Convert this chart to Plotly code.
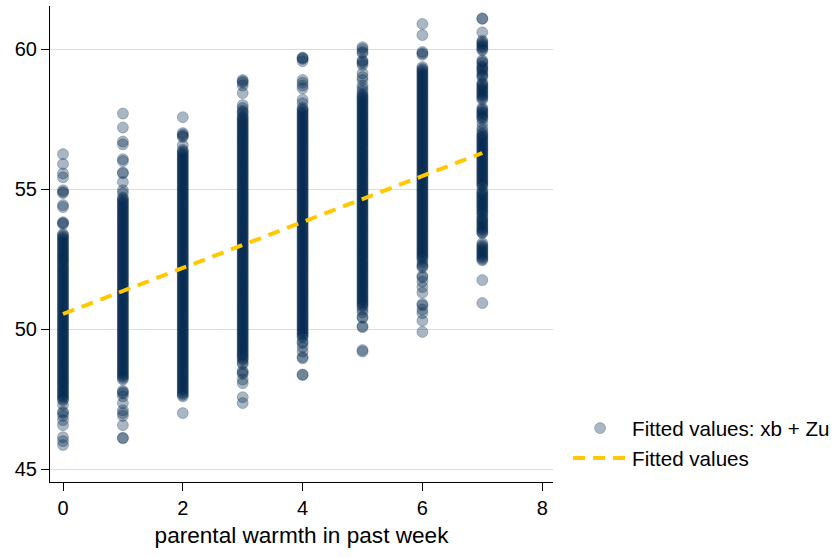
import plotly.graph_objects as go

# ---- data ----
warmth_levels = [0, 1, 2, 3, 4, 5, 6, 7]

y_w0 = [56.25, 55.9, 55.56, 55.42, 54.96, 54.9, 54.86, 54.43, 54.36, 53.82, 53.79, 53.75,
        53.4, 53.35, 53.3, 53.25, 53.2, 53.15, 53.1, 53.05, 53.0, 52.95, 52.9, 52.85,
        52.8, 52.75, 52.7, 52.65, 52.6, 52.55, 52.5, 52.46, 52.42, 52.36, 52.3, 52.25,
        52.2, 52.15, 52.1, 52.05, 52.0, 51.95, 51.9, 51.85, 51.8, 51.75, 51.7, 51.65,
        51.6, 51.55, 51.5, 51.45, 51.4, 51.35, 51.3, 51.25, 51.2, 51.15, 51.1, 51.05,
        51.0, 50.95, 50.9, 50.85, 50.8, 50.75, 50.7,
        50.65, 50.6, 50.55, 50.5, 50.45, 50.4, 50.35, 50.3, 50.25, 50.2, 50.15, 50.1,
        50.05, 50.0, 49.95, 49.9, 49.85, 49.8, 49.75, 49.7, 49.65, 49.6, 49.55, 49.5,
        49.45, 49.4, 49.35, 49.3, 49.25, 49.2, 49.15, 49.1, 49.05, 49.0, 48.95, 48.9,
        48.85, 48.8, 48.75, 48.7, 48.65, 48.6, 48.55, 48.5, 48.45, 48.4,
        48.35, 48.3, 48.25, 48.2, 48.15, 48.1, 48.07, 48.0, 47.95, 47.9, 47.85, 47.8,
        47.75, 47.7, 47.65, 47.6, 47.55, 47.5, 47.46, 47.3, 47.05, 47.0, 46.9, 46.75,
        46.57, 46.14, 46.0, 45.86]

y_w1 = [57.7, 57.2, 56.7, 56.6, 56.07, 56.0, 55.6, 55.56, 55.25, 54.96, 54.86,
        54.7, 54.65, 54.6, 54.55, 54.5, 54.45, 54.4, 54.35, 54.3, 54.25, 54.2, 54.15,
        54.1, 54.05, 54.0, 53.95, 53.9, 53.85, 53.8, 53.75, 53.7, 53.65, 53.6, 53.55,
        53.5, 53.45, 53.4, 53.35, 53.3, 53.25, 53.2, 53.15, 53.1, 53.05, 53.0, 52.95,
        52.9, 52.85, 52.8, 52.75, 52.7, 52.65, 52.6, 52.55, 52.5, 52.45, 52.4, 52.35,
        52.3, 52.25, 52.2, 52.15, 52.1, 52.05, 52.0, 51.95, 51.9, 51.85, 51.8, 51.75,
        51.7, 51.65, 51.6, 51.55, 51.5, 51.45, 51.4, 51.35, 51.3, 51.25, 51.2, 51.15,
        51.1, 51.05, 51.0, 50.95, 50.9, 50.85, 50.8, 50.75, 50.7, 50.65, 50.6, 50.55,
        50.5, 50.45, 50.4, 50.35, 50.3, 50.25, 50.2, 50.15, 50.1, 50.05, 50.0, 49.95,
        49.9, 49.85, 49.8, 49.75, 49.7, 49.65, 49.6, 49.55, 49.5, 49.45, 49.4, 49.35,
        49.3, 49.25, 49.2, 49.15, 49.1, 49.05, 49.0, 48.95, 48.9, 48.85, 48.8, 48.75,
        48.7, 48.65, 48.6, 48.55, 48.5, 48.45, 48.4, 48.35, 48.3, 48.25, 48.2,
        47.8, 47.75, 47.7, 47.6, 47.36, 47.1, 47.0, 46.9, 46.57, 46.1, 46.12]

y_w2 = [57.57, 57.0, 56.95, 56.9, 56.86, 56.57,
        56.4, 56.35, 56.3, 56.25, 56.2, 56.15, 56.1, 56.05, 56.0, 55.95, 55.9, 55.85,
        55.8, 55.75, 55.7, 55.65, 55.6, 55.55, 55.5, 55.45, 55.4, 55.35, 55.3, 55.25,
        55.2, 55.15, 55.1, 55.05, 55.0, 54.95, 54.9, 54.85, 54.8, 54.75, 54.7, 54.65,
        54.6, 54.55, 54.5, 54.45, 54.4, 54.35, 54.3, 54.25, 54.2, 54.15, 54.1, 54.05,
        54.0, 53.95, 53.9, 53.85, 53.8, 53.75, 53.7, 53.65, 53.6, 53.55, 53.5, 53.45,
        53.4, 53.35, 53.3, 53.25, 53.2, 53.15, 53.1, 53.05, 53.0, 52.95, 52.9, 52.85,
        52.8, 52.75, 52.7, 52.65, 52.6, 52.55, 52.5, 52.45, 52.4, 52.35, 52.3, 52.25,
        52.2, 52.15, 52.1, 52.05, 52.0, 51.95, 51.9, 51.85, 51.8, 51.75, 51.7, 51.65,
        51.6, 51.55, 51.5, 51.45, 51.4, 51.35, 51.3, 51.25, 51.2, 51.15, 51.1, 51.05,
        51.0, 50.95, 50.9, 50.85, 50.8, 50.75, 50.7, 50.65, 50.6, 50.55, 50.5, 50.45,
        50.4, 50.35, 50.3, 50.25, 50.2, 50.15, 50.1, 50.05, 50.0, 49.95, 49.9, 49.85,
        49.8, 49.75, 49.7, 49.65, 49.6, 49.55, 49.5, 49.45, 49.4, 49.35, 49.3, 49.25,
        49.2, 49.15, 49.1, 49.05, 49.0, 48.95, 48.9, 48.85, 48.8, 48.75, 48.7, 48.65,
        48.6, 48.55, 48.5, 48.45, 48.4, 48.35, 48.3, 48.25, 48.2, 48.15, 48.1, 48.05,
        48.0, 47.95, 47.9, 47.85, 47.8, 47.75, 47.7, 47.65, 47.6, 47.0]

y_w3 = [58.9, 58.85, 58.8, 58.7, 58.43, 58.0, 57.9, 57.8, 57.75, 57.7,
        57.6, 57.55, 57.5, 57.45, 57.4, 57.35, 57.3, 57.25, 57.2, 57.15, 57.1, 57.05,
        57.0, 56.95, 56.9, 56.85, 56.8, 56.75, 56.7, 56.65, 56.6, 56.55, 56.5, 56.45,
        56.4, 56.35, 56.3, 56.25, 56.2, 56.15, 56.1, 56.05, 56.0, 55.95, 55.9, 55.85,
        55.8, 55.75, 55.7, 55.65, 55.6, 55.55, 55.5, 55.45, 55.4, 55.35, 55.3, 55.25,
        55.2, 55.15, 55.1, 55.05, 55.0, 54.95, 54.9, 54.85, 54.8, 54.75, 54.7, 54.65,
        54.6, 54.55, 54.5, 54.45, 54.4, 54.35, 54.3, 54.25, 54.2, 54.15, 54.1, 54.05,
        54.0, 53.95, 53.9, 53.85, 53.8, 53.75, 53.7, 53.65, 53.6, 53.55, 53.5, 53.45,
        53.4, 53.35, 53.3, 53.25, 53.2, 53.15, 53.1, 53.05, 53.0, 52.95, 52.9, 52.85,
        52.8, 52.75, 52.7, 52.65, 52.6, 52.55, 52.5, 52.45, 52.4, 52.35, 52.3, 52.25,
        52.2, 52.15, 52.1, 52.05, 52.0, 51.95, 51.9, 51.85, 51.8, 51.75, 51.7, 51.65,
        51.6, 51.55, 51.5, 51.45, 51.4, 51.35, 51.3, 51.25, 51.2, 51.15, 51.1, 51.05,
        51.0, 50.95, 50.9, 50.85, 50.8, 50.75, 50.7, 50.65, 50.6, 50.55, 50.5, 50.45,
        50.4, 50.35, 50.3, 50.25, 50.2, 50.15, 50.1, 50.05, 50.0, 49.95, 49.9, 49.85,
        49.8, 49.75, 49.7, 49.65, 49.6, 49.55, 49.5, 49.45, 49.4, 49.35, 49.3, 49.25,
        49.2, 49.15, 49.1, 49.05, 49.0, 48.95, 48.9,
        48.8, 48.75, 48.5, 48.45, 48.4, 48.2, 48.07, 47.57, 47.36]

y_w4 = [59.7, 59.68, 59.65, 59.57, 58.9, 58.8, 58.7, 58.6, 58.2, 58.07,
        57.9, 57.85, 57.8, 57.75, 57.7, 57.65, 57.6, 57.55, 57.5, 57.45, 57.4, 57.35,
        57.3, 57.25, 57.2, 57.15, 57.1, 57.05, 57.0, 56.95, 56.9, 56.85, 56.8, 56.75,
        56.7, 56.65, 56.6, 56.55, 56.5, 56.45, 56.4, 56.35, 56.3, 56.25, 56.2, 56.15,
        56.1, 56.05, 56.0, 55.95, 55.9, 55.85, 55.8, 55.75, 55.7, 55.65, 55.6, 55.55,
        55.5, 55.45, 55.4, 55.35, 55.3, 55.25, 55.2, 55.15, 55.1, 55.05, 55.0, 54.95,
        54.9, 54.85, 54.8, 54.75, 54.7, 54.65, 54.6, 54.55, 54.5, 54.45, 54.4, 54.35,
        54.3, 54.25, 54.2, 54.15, 54.1, 54.05, 54.0, 53.95, 53.9, 53.85, 53.8, 53.75,
        53.7, 53.65, 53.6, 53.55, 53.5, 53.45, 53.4, 53.35, 53.3, 53.25, 53.2, 53.15,
        53.1, 53.05, 53.0, 52.95, 52.9, 52.85, 52.8, 52.75, 52.7, 52.65, 52.6, 52.55,
        52.5, 52.45, 52.4, 52.35, 52.3, 52.25, 52.2, 52.15, 52.1, 52.05, 52.0, 51.95,
        51.9, 51.85, 51.8, 51.75, 51.7, 51.65, 51.6, 51.55, 51.5, 51.45, 51.4, 51.35,
        51.3, 51.25, 51.2, 51.15, 51.1, 51.05, 51.0, 50.95, 50.9, 50.85, 50.8, 50.75,
        50.7, 50.65, 50.6, 50.55, 50.5, 50.45, 50.4, 50.35, 50.3, 50.25, 50.2, 50.15,
        50.1, 50.05, 50.0, 49.95, 49.9, 49.85, 49.8, 49.75, 49.7,
        49.55, 49.5, 49.36, 49.2, 49.0, 48.96, 48.38, 48.36]

y_w5 = [60.07, 60.0, 59.9, 59.86, 59.6, 59.55, 59.5, 59.43, 59.14, 59.0, 58.9, 58.7,
        58.6, 58.5,
        58.4, 58.35, 58.3, 58.25, 58.2, 58.15, 58.1, 58.05, 58.0, 57.95, 57.9, 57.85,
        57.8, 57.75, 57.7, 57.65, 57.6, 57.55, 57.5, 57.45, 57.4, 57.35, 57.3, 57.25,
        57.2, 57.15, 57.1, 57.05, 57.0, 56.95, 56.9, 56.85, 56.8, 56.75, 56.7, 56.65,
        56.6, 56.55, 56.5, 56.45, 56.4, 56.35, 56.3, 56.25, 56.2, 56.15, 56.1, 56.05,
        56.0, 55.95, 55.9, 55.85, 55.8, 55.75, 55.7, 55.65, 55.6, 55.55, 55.5, 55.45,
        55.4, 55.35, 55.3, 55.25, 55.2, 55.15, 55.1, 55.05, 55.0, 54.95, 54.9, 54.85,
        54.8, 54.75, 54.7, 54.65, 54.6, 54.55, 54.5, 54.45, 54.4, 54.35, 54.3, 54.25,
        54.2, 54.15, 54.1, 54.05, 54.0, 53.95, 53.9, 53.85, 53.8, 53.75, 53.7, 53.65,
        53.6, 53.55, 53.5, 53.45, 53.4, 53.35, 53.3, 53.25, 53.2, 53.15, 53.1, 53.05,
        53.0, 52.95, 52.9, 52.85, 52.8, 52.75, 52.7, 52.65, 52.6, 52.55, 52.5, 52.45,
        52.4, 52.35, 52.3, 52.25, 52.2, 52.15, 52.1, 52.05, 52.0, 51.95, 51.9, 51.85,
        51.8, 51.75, 51.7, 51.65, 51.6, 51.55, 51.5, 51.45, 51.4, 51.35, 51.3, 51.25,
        51.2, 51.15, 51.1, 51.05, 51.0, 50.95, 50.9, 50.85, 50.8,
        50.7, 50.6, 50.43, 50.4, 50.1, 50.07, 49.25, 49.2]

y_w6 = [60.9, 60.5, 59.9, 59.85, 59.8, 59.36, 59.3,
        59.25, 59.2, 59.15, 59.1, 59.05, 59.0, 58.95, 58.9, 58.85, 58.8, 58.75, 58.7,
        58.65, 58.6, 58.55, 58.5, 58.45, 58.4, 58.35, 58.3, 58.25, 58.2, 58.15, 58.1,
        58.05, 58.0, 57.95, 57.9, 57.85, 57.8, 57.75, 57.7, 57.65, 57.6, 57.55, 57.5,
        57.45, 57.4, 57.35, 57.3, 57.25, 57.2, 57.15, 57.1, 57.05, 57.0, 56.95, 56.9,
        56.85, 56.8, 56.75, 56.7, 56.65, 56.6, 56.55, 56.5, 56.45, 56.4, 56.35, 56.3,
        56.25, 56.2, 56.15, 56.1, 56.05, 56.0, 55.95, 55.9, 55.85, 55.8, 55.75, 55.7,
        55.65, 55.6, 55.55, 55.5, 55.45, 55.4, 55.35, 55.3, 55.25, 55.2, 55.15, 55.1,
        55.05, 55.0, 54.95, 54.9, 54.85, 54.8, 54.75, 54.7, 54.65, 54.6, 54.55, 54.5,
        54.45, 54.4, 54.35, 54.3, 54.25, 54.2, 54.15, 54.1, 54.05, 54.0, 53.95, 53.9,
        53.85, 53.8, 53.75, 53.7, 53.65, 53.6, 53.55, 53.5, 53.45, 53.4, 53.35, 53.3,
        53.25, 53.2, 53.15, 53.1, 53.05, 53.0, 52.95, 52.9, 52.85, 52.8, 52.75, 52.7,
        52.65, 52.6, 52.55, 52.5,
        52.4, 52.3, 52.25, 52.2, 51.9, 51.85, 51.7, 51.5, 51.3, 50.9, 50.85, 50.7,
        50.57, 50.3, 49.9]

y_w7 = [61.1, 61.08, 60.6, 60.3, 60.25, 60.2, 60.15, 60.1, 60.05, 60.0, 59.96,
        59.6, 59.55, 59.5, 59.4, 59.35, 59.3, 59.25, 59.2, 59.1, 59.05, 59.0,
        58.8, 58.75, 58.7, 58.65, 58.6, 58.55, 58.5, 58.45, 58.4, 58.35, 58.3, 58.25,
        58.2, 57.9, 57.85, 57.8, 57.75, 57.7, 57.65, 57.6, 57.55, 57.5, 57.36, 57.2,
        57.1,
        57.0, 56.95, 56.9, 56.85, 56.8, 56.75, 56.7, 56.65, 56.6, 56.55, 56.5, 56.45,
        56.4, 56.35, 56.3, 56.25, 56.2, 56.15, 56.1, 56.05, 56.0, 55.95, 55.9, 55.85,
        55.8, 55.75, 55.7, 55.65, 55.6, 55.55, 55.5, 55.45, 55.4, 55.35, 55.3, 55.25,
        55.2, 55.15, 55.1,
        54.96, 54.9, 54.85, 54.8, 54.75, 54.7, 54.65, 54.6, 54.55, 54.5, 54.45, 54.4,
        54.35, 54.3, 54.25, 54.2, 54.14, 54.1, 54.0, 53.95, 53.9, 53.85, 53.8, 53.75,
        53.7, 53.65, 53.6, 53.55, 53.5, 53.45, 53.43, 53.07, 53.0, 52.95, 52.9, 52.85,
        52.8, 52.75, 52.7, 52.65, 52.6, 52.55, 52.5, 52.46,
        51.75, 50.93]

y_by_level = [y_w0, y_w1, y_w2, y_w3, y_w4, y_w5, y_w6, y_w7]

fitted_line = [50.54, 51.36, 52.18, 53.00, 53.83, 54.65, 55.47, 56.29]

xtick_vals = [0, 2, 4, 6, 8]
ytick_vals = [45, 50, 55, 60]

# ---- build ----
scatter_x = []
scatter_y = []
for lvl, ys in zip(warmth_levels, y_by_level):
    scatter_x += [lvl] * len(ys)
    scatter_y += ys

FONT = "Liberation Sans, Arial, sans-serif"

fig = go.Figure()
fig.add_trace(go.Scatter(
    x=scatter_x, y=scatter_y, mode="markers",
    name="Fitted values: xb + Zu",
    marker=dict(size=11, color="rgba(3,40,78,0.34)",
                line=dict(color="rgba(3,40,78,0.25)", width=1)),
))
fig.add_trace(go.Scatter(
    x=warmth_levels, y=fitted_line, mode="lines",
    name="Fitted values",
    line=dict(color="#ffc800", width=4, dash="12px,8px"),
))

fig.update_layout(
    width=836, height=557,
    margin=dict(l=50, r=283, t=6, b=75, autoexpand=False),
    paper_bgcolor="white", plot_bgcolor="white",
    font=dict(family=FONT, size=20, color="black"),
    showlegend=True,
    legend=dict(x=1.03, y=0.155, xanchor="left", yanchor="top",
                font=dict(size=20.6), bgcolor="rgba(0,0,0,0)",
                tracegroupgap=0, itemwidth=54),
    xaxis=dict(range=[-0.217, 8.18], tickvals=xtick_vals, showgrid=False,
               zeroline=False, showline=True, linecolor="black", linewidth=1,
               ticks="outside", ticklen=8, tickcolor="black",
               tickfont=dict(size=20),
               title=dict(text="parental warmth in past week", font=dict(size=22.6),
                          standoff=9)),
    yaxis=dict(range=[44.54, 61.54], tickvals=ytick_vals, showgrid=True,
               gridcolor="#dcdcdc", gridwidth=1, zeroline=False,
               showline=True, linecolor="black", linewidth=1,
               ticks="outside", ticklen=8, tickcolor="black",
               tickfont=dict(size=20)),
)

fig.write_html("out.html")
